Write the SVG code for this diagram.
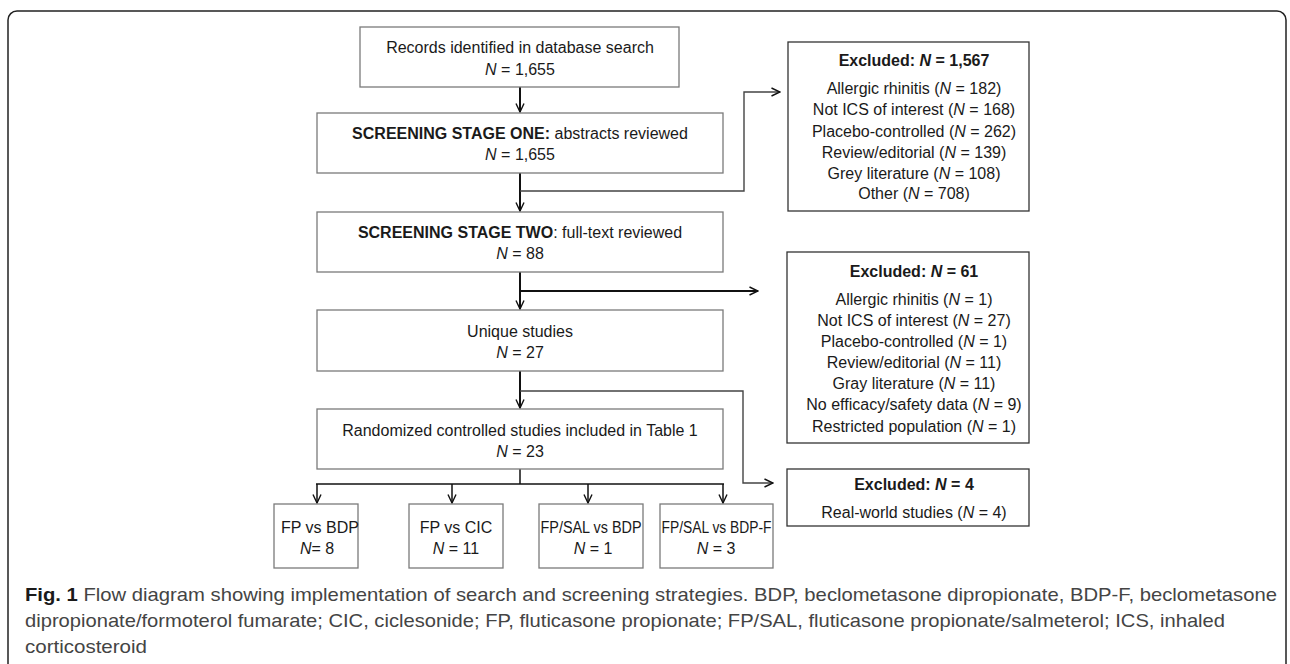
<svg xmlns="http://www.w3.org/2000/svg" width="1290" height="664" viewBox="0 0 1290 664">
<defs>
<style>
.bg{fill:#fff}
.frame{fill:none;stroke:#222;stroke-width:1.5}
.box{fill:#fff;stroke:#7a7a7a;stroke-width:1.3}
.xbox{fill:#fff;stroke:#333;stroke-width:1.3}
.t{font-family:"Liberation Sans",Arial,sans-serif;font-size:16px;fill:#1a1a1a;text-anchor:middle}
.b{font-weight:bold}
.i{font-style:italic}
.main{fill:none;stroke:#111;stroke-width:2}
.thin{fill:none;stroke:#444;stroke-width:1.4}
.cap{font-family:"Liberation Sans",Arial,sans-serif;font-size:19px;fill:#444}
.capb{font-weight:bold;fill:#1a1a1a}
</style>
<marker id="ah" viewBox="0 0 10 10" refX="9.5" refY="5" markerWidth="10" markerHeight="10" markerUnits="userSpaceOnUse" orient="auto">
<path d="M1,1 L9.5,5 L1,9" fill="none" stroke="#111" stroke-width="1.4"/>
</marker>
</defs>
<rect class="bg" x="0" y="0" width="1290" height="664"/>
<rect class="frame" x="8" y="11" width="1278" height="700" rx="9"/>

<g id="connectors">
<line class="main" x1="520" y1="87" x2="520" y2="112" marker-end="url(#ah)"/>
<line class="main" x1="520" y1="173" x2="520" y2="211" marker-end="url(#ah)"/>
<polyline class="thin" points="520,191 744,191 744,92 780,92" marker-end="url(#ah)"/>
<line class="main" x1="520" y1="272" x2="520" y2="309" marker-end="url(#ah)"/>
<line class="main" x1="520" y1="291" x2="758" y2="291" marker-end="url(#ah)"/>
<line class="main" x1="520" y1="371" x2="520" y2="408" marker-end="url(#ah)"/>
<polyline class="thin" points="520,391 743,391 743,483 773,483" marker-end="url(#ah)"/>
<line class="main" x1="520" y1="469" x2="520" y2="484" style="stroke-width:1.5"/>
<line class="main" x1="316" y1="484" x2="724" y2="484" style="stroke-width:1.5"/>
<line class="main" x1="317" y1="484" x2="317" y2="503" style="stroke-width:1.5" marker-end="url(#ah)"/>
<line class="main" x1="452" y1="484" x2="452" y2="503" style="stroke-width:1.5" marker-end="url(#ah)"/>
<line class="main" x1="588" y1="484" x2="588" y2="503" style="stroke-width:1.5" marker-end="url(#ah)"/>
<line class="main" x1="723" y1="484" x2="723" y2="503" style="stroke-width:1.5" marker-end="url(#ah)"/>
</g>

<g id="records">
<rect class="box" x="360" y="27" width="319" height="60"/>
<text class="t" x="520" y="53">Records identified in database search</text>
<text class="t" x="520" y="75"><tspan class="i">N</tspan> = 1,655</text>
</g>

<g id="stage-one">
<rect class="box" x="317" y="113" width="406" height="60"/>
<text class="t" x="520" y="139"><tspan class="b">SCREENING STAGE ONE:</tspan> abstracts reviewed</text>
<text class="t" x="520" y="160"><tspan class="i">N</tspan> = 1,655</text>
</g>

<g id="stage-two">
<rect class="box" x="317" y="212" width="406" height="60"/>
<text class="t" x="520" y="238"><tspan class="b">SCREENING STAGE TWO</tspan>: full-text reviewed</text>
<text class="t" x="520" y="259"><tspan class="i">N</tspan> = 88</text>
</g>

<g id="unique">
<rect class="box" x="317" y="310" width="406" height="61"/>
<text class="t" x="520" y="337">Unique studies</text>
<text class="t" x="520" y="358"><tspan class="i">N</tspan> = 27</text>
</g>

<g id="rct">
<rect class="box" x="317" y="409" width="406" height="60"/>
<text class="t" x="520" y="436">Randomized controlled studies included in Table 1</text>
<text class="t" x="520" y="457"><tspan class="i">N</tspan> = 23</text>
</g>

<g id="fp-bdp">
<rect class="box" x="274" y="504" width="84" height="64"/>
<text class="t" x="320" y="533">FP vs BDP</text>
<text class="t" x="317" y="554"><tspan class="i">N</tspan>= 8</text>
</g>

<g id="fp-cic">
<rect class="box" x="409" y="504" width="94" height="64"/>
<text class="t" x="456" y="533">FP vs CIC</text>
<text class="t" x="456" y="554"><tspan class="i">N</tspan> = 11</text>
</g>

<g id="fpsal-bdp">
<rect class="box" x="539" y="504" width="104" height="64"/>
<text class="t" x="591" y="533" textLength="101" lengthAdjust="spacingAndGlyphs">FP/SAL vs BDP</text>
<text class="t" x="593" y="554"><tspan class="i">N</tspan> = 1</text>
</g>

<g id="fpsal-bdpf">
<rect class="box" x="660" y="504" width="113" height="64"/>
<text class="t" x="716.5" y="533" textLength="110" lengthAdjust="spacingAndGlyphs">FP/SAL vs BDP-F</text>
<text class="t" x="716" y="554"><tspan class="i">N</tspan> = 3</text>
</g>

<g id="excluded-1567">
<rect class="xbox" x="788" y="42" width="241" height="169"/>
<text class="t b" x="914" y="66">Excluded: <tspan class="i">N</tspan> = 1,567</text>
<text class="t" x="914" y="94">Allergic rhinitis (<tspan class="i">N</tspan> = 182)</text>
<text class="t" x="914" y="115">Not ICS of interest (<tspan class="i">N</tspan> = 168)</text>
<text class="t" x="914" y="137">Placebo-controlled (<tspan class="i">N</tspan> = 262)</text>
<text class="t" x="914" y="158">Review/editorial (<tspan class="i">N</tspan> = 139)</text>
<text class="t" x="914" y="179">Grey literature (<tspan class="i">N</tspan> = 108)</text>
<text class="t" x="914" y="199">Other (<tspan class="i">N</tspan> = 708)</text>
</g>

<g id="excluded-61">
<rect class="xbox" x="787" y="252" width="242" height="191"/>
<text class="t b" x="914" y="277">Excluded: <tspan class="i">N</tspan> = 61</text>
<text class="t" x="914" y="305">Allergic rhinitis (<tspan class="i">N</tspan> = 1)</text>
<text class="t" x="914" y="326">Not ICS of interest (<tspan class="i">N</tspan> = 27)</text>
<text class="t" x="914" y="347">Placebo-controlled (<tspan class="i">N</tspan> = 1)</text>
<text class="t" x="914" y="368">Review/editorial (<tspan class="i">N</tspan> = 11)</text>
<text class="t" x="914" y="389">Gray literature (<tspan class="i">N</tspan> = 11)</text>
<text class="t" x="914" y="410">No efficacy/safety data (<tspan class="i">N</tspan> = 9)</text>
<text class="t" x="914" y="432">Restricted population (<tspan class="i">N</tspan> = 1)</text>
</g>

<g id="excluded-4">
<rect class="xbox" x="787" y="469" width="242" height="57"/>
<text class="t b" x="914" y="490">Excluded: <tspan class="i">N</tspan> = 4</text>
<text class="t" x="914" y="518">Real-world studies (<tspan class="i">N</tspan> = 4)</text>
</g>

<g id="caption">
<text class="cap" x="25" y="601" textLength="1252" lengthAdjust="spacingAndGlyphs"><tspan class="capb">Fig. 1</tspan> Flow diagram showing implementation of search and screening strategies. BDP, beclometasone dipropionate, BDP-F, beclometasone</text>
<text class="cap" x="25" y="627" textLength="1200" lengthAdjust="spacingAndGlyphs">dipropionate/formoterol fumarate; CIC, ciclesonide; FP, fluticasone propionate; FP/SAL, fluticasone propionate/salmeterol; ICS, inhaled</text>
<text class="cap" x="25" y="653" textLength="122" lengthAdjust="spacingAndGlyphs">corticosteroid</text>
</g>
</svg>
